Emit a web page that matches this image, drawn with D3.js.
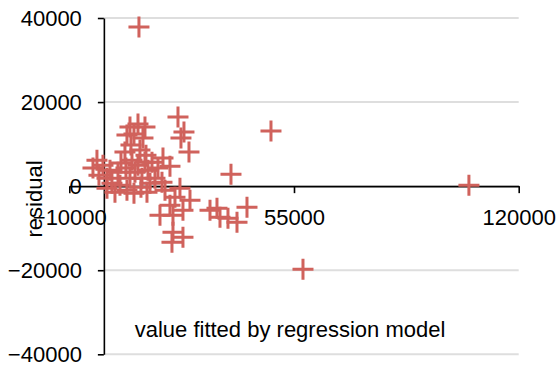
<!DOCTYPE html>
<html>
<head>
<meta charset="utf-8">
<script src="https://cdn.jsdelivr.net/npm/d3@7"></script>
<style>
body { margin: 0; background: #fff; }
text { font-family: "Liberation Sans", Arial, sans-serif; }
</style>
</head>
<body>
<div id="chart"></div>
<script>

// fitted value from the regression model
var fitted = [
    7550, 9870, 11890, 6680, 8710, 11310, 7840, 10440, 6100, 12180,
    -2000, -3150, -260, -1420, 900, 2340, 4080, 4950, 6390, 8130,
    9870, 7550, 9000, 11020, 12760, 13920, 15650, 17100, 19120, 14780,
    16810, 4660, 6680, 8710, 10730, 12470, 3210, 900, 21440, 23170,
    22300, 24620, 36770, 20570, 16230, 22880, 19990, 24910, 19990, 19700,
    22880, 32720, 30700, 35900, 33590, 38510, 41400, 19120, 10150, 48340,
    57600, 105600, 13340, 17680, 22010, 1770, 11890
];

// residual (observed - fitted)
var residual = [
    14050, 14760, 14050, 12140, 12380, 11430, 9760, 8570, 8100, 7380,
    6190, 4290, 5000, 2620, 1900, 710, 3330, 5480, 4290, 6190,
    5000, 1900, 3330, 1900, 3810, 5710, 4290, 6670, 4760, 1900,
    950, 240, -950, -1670, -240, -1430, -1430, -480, 16430, 12860,
    11430, 8100, 2860, -2620, -6900, -5710, -6900, -3330, -10950, -13330,
    -12140, -5240, -5710, -7620, -7380, -8570, -5000, -4520, 37860, 13100,
    -19760, 240, 710, -950, -480, 3810, 5710
];

var xTicks = [-10000, 55000, 120000];
var yTicks = [-40000, -20000, 0, 20000, 40000];

//////////////////////////////////////////////////////////////////////////////

var width = 560, height = 373;
var markColor = "#d0625c";

var xScale = d3.scaleLinear().domain([-10000, 120000]).range([69.3, 518.7]);
var yScale = d3.scaleLinear().domain([-40000, 40000]).range([354.3, 18]);

var svg = d3.select("#chart")
    .append("svg")
    .attr("width", width)
    .attr("height", height);

// horizontal gridlines
svg.append("g")
    .selectAll("line")
    .data(yTicks)
    .enter()
    .append("line")
    .attr("x1", xScale(0))
    .attr("x2", xScale(120000))
    .attr("y1", function(d) { return yScale(d); })
    .attr("y2", function(d) { return yScale(d); })
    .attr("stroke", "#dedede")
    .attr("stroke-width", 2);

// y axis sits at x = 0
var yAxis = svg.append("g")
    .attr("transform", "translate(" + xScale(0) + ",0)")
    .call(d3.axisLeft(yScale).tickValues(yTicks).tickSize(6).tickPadding(16)
          .tickFormat(d3.format("d")).tickSizeOuter(0));

// x axis sits at y = 0
var xAxis = svg.append("g")
    .attr("transform", "translate(0," + yScale(0) + ")")
    .call(d3.axisBottom(xScale).tickValues(xTicks).tickSize(7)
          .tickFormat(d3.format("d")).tickSizeOuter(0));

xAxis.selectAll(".tick text").attr("y", 39).attr("dy", 0);

[xAxis, yAxis].forEach(function(a) {
    a.selectAll("path, line").attr("stroke", "#000").attr("stroke-width", 1.6);
    a.selectAll("text").attr("font-size", 22).attr("fill", "#000")
        .attr("font-family", "Liberation Sans, Arial, sans-serif");
});

// markers, drawn as plus signs
var pts = fitted.map(function(f, i) { return {x: f, y: residual[i]}; });
var arm = 10.5;

svg.append("g")
    .selectAll("path")
    .data(pts)
    .enter()
    .append("path")
    .attr("d", function(d) {
        var cx = xScale(d.x), cy = yScale(d.y);
        return "M" + (cx - arm) + " " + cy + " L" + (cx + arm) + " " + cy +
               " M" + cx + " " + (cy - arm) + " L" + cx + " " + (cy + arm);
    })
    .attr("stroke", markColor)
    .attr("stroke-width", 3)
    .attr("fill", "none");

// axis titles
svg.append("text")
    .attr("x", 290)
    .attr("y", 337)
    .attr("text-anchor", "middle")
    .attr("font-size", 22)
    .text("value fitted by regression model");

svg.append("text")
    .attr("transform", "translate(42,199) rotate(-90)")
    .attr("text-anchor", "middle")
    .attr("font-size", 22)
    .text("residual");

</script>
</body>
</html>
